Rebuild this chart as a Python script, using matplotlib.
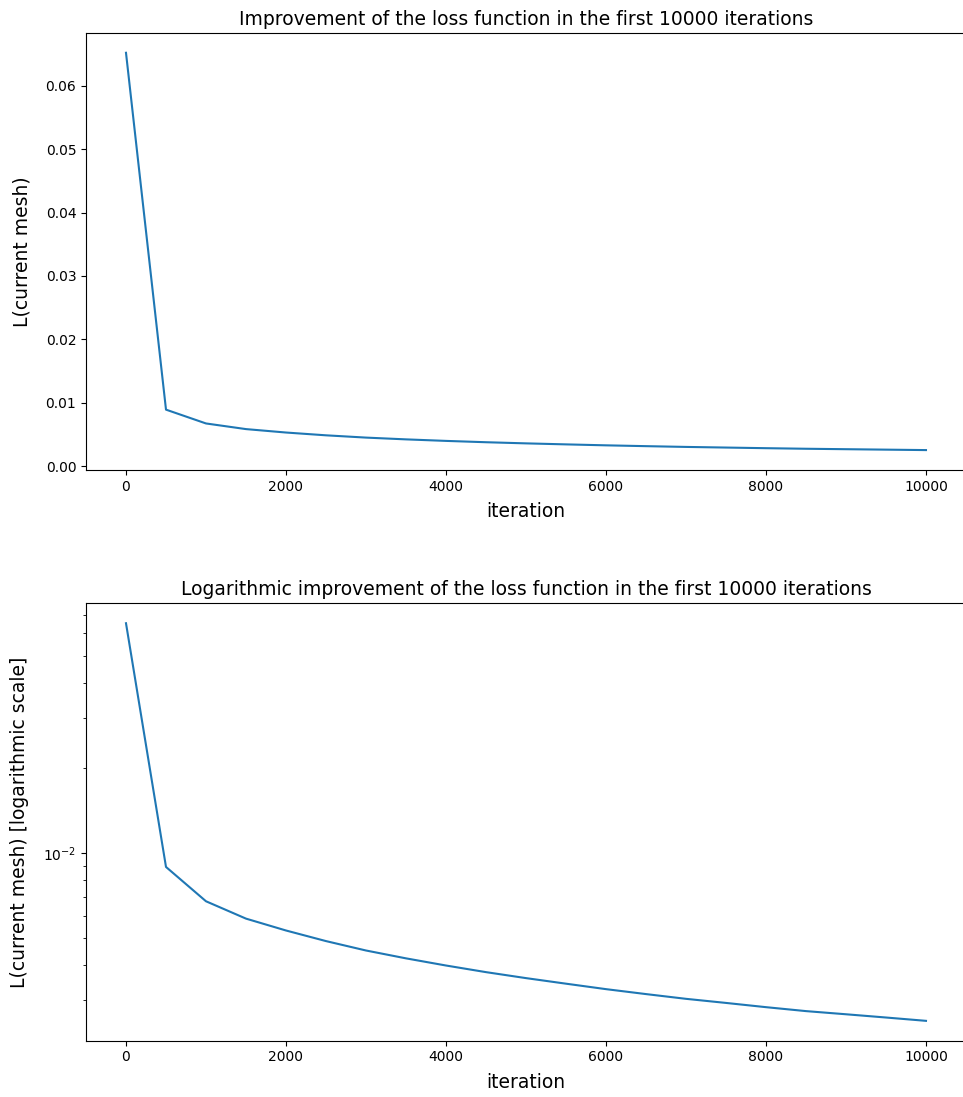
import matplotlib
matplotlib.use("Agg")
import matplotlib.pyplot as plt

iterations = [0, 500, 1000, 1500, 2000, 2500, 3000, 3500, 4000, 4500, 5000,
              5500, 6000, 6500, 7000, 7500, 8000, 8500, 9000, 9500, 10000]
loss = [0.0652, 0.00892, 0.00674, 0.00585, 0.00531, 0.00487, 0.00451, 0.00423,
        0.00399, 0.00378, 0.00360, 0.00344, 0.00329, 0.00316, 0.00304, 0.00294,
        0.00284, 0.00275, 0.00268, 0.00261, 0.00254]

title_top = "Improvement of the loss function in the first 10000 iterations"
title_bottom = "Logarithmic improvement of the loss function in the first 10000 iterations"

fig = plt.figure(figsize=(9.63, 10.97), dpi=100)
ax1 = fig.add_axes([0.0893, 0.5716, 0.9138, 0.3984])
ax2 = fig.add_axes([0.0893, 0.0513, 0.9138, 0.3987])

fs = 13.5
ax1.plot(iterations, loss, color="#1f77b4")
ax1.set_title(title_top, fontsize=fs)
ax1.set_xlabel("iteration", fontsize=fs, labelpad=6)
ax1.set_ylabel("L(current mesh)", fontsize=fs, labelpad=10)

ax2.plot(iterations, loss, color="#1f77b4")
ax2.set_yscale("log")
ax2.set_title(title_bottom, fontsize=fs)
ax2.set_xlabel("iteration", fontsize=fs, labelpad=6)
ax2.set_ylabel("L(current mesh) [logarithmic scale]", fontsize=fs, labelpad=10)

fig.savefig("out.png", dpi=100)
